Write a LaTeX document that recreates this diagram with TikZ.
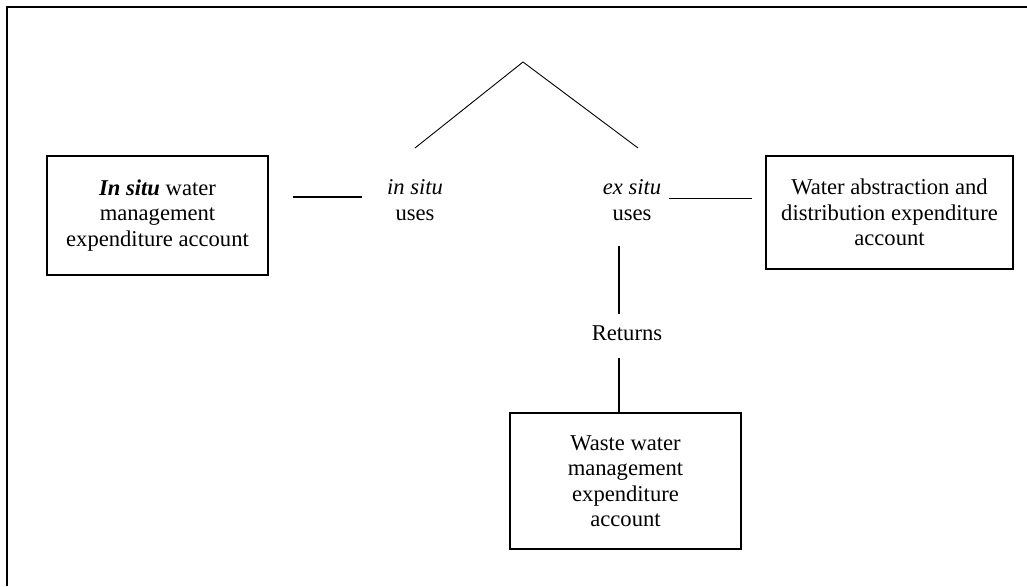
\documentclass[tikz,border=0pt]{standalone}
\usepackage{fontspec}
\setmainfont{Liberation Serif}
\begin{document}
\begin{tikzpicture}[x=1pt,y=-1pt,
  txt/.style={font=\fontsize{22.6}{25.5}\selectfont, align=center, inner sep=0pt},
  account/.style={txt, draw, line width=1.8pt, minimum width=#1},
  thin line/.style={line width=0.9pt},
  mid line/.style={line width=1.4pt},
  heavy line/.style={line width=1.8pt}]
\useasboundingbox (0,0) rectangle (1027,586);
% open frame: top and left edges
\draw[heavy line] (7,586) -- (7,7) -- (1027,7);

% account boxes
\node[account=221pt, minimum height=119pt] (lbox) at (157.5,215.5)
  {\textbf{\textit{In situ}} water\\management\\expenditure account};
\node[account=247pt, minimum height=113pt] (rbox) at (889.5,212.5)
  {Water abstraction and\\distribution expenditure\\account};
\node[account=231pt, minimum height=136pt] (bbox) at (625.5,481)
  {Waste water\\management\\expenditure\\account};

% use labels
\node[txt] (insitu) at (415,200) {\textit{in situ}\\uses};
\node[txt] (exsitu) at (632,200) {\textit{ex situ}\\uses};
\node[txt] (returns) at (627,333) {Returns};

% branching of the uses
\coordinate (apex) at (523,62);
\coordinate (lfoot) at (415,148);
\coordinate (rfoot) at (638,148);
\draw[thin line] (lfoot) -- (apex) -- (rfoot);

% links between labels and accounts
\draw[heavy line] (lbox.east) ++(24,-18.5) -- ++(69,0);
\draw[thin line] (rbox.west) ++(-13,-14.5) -- ++(-83,0);
\draw[mid line] (exsitu.south) ++(-13,25) -- ++(0,68);
\draw[mid line] (returns.south) ++(-8,17) -- (bbox.north -| 619,0);
\end{tikzpicture}
\end{document}
